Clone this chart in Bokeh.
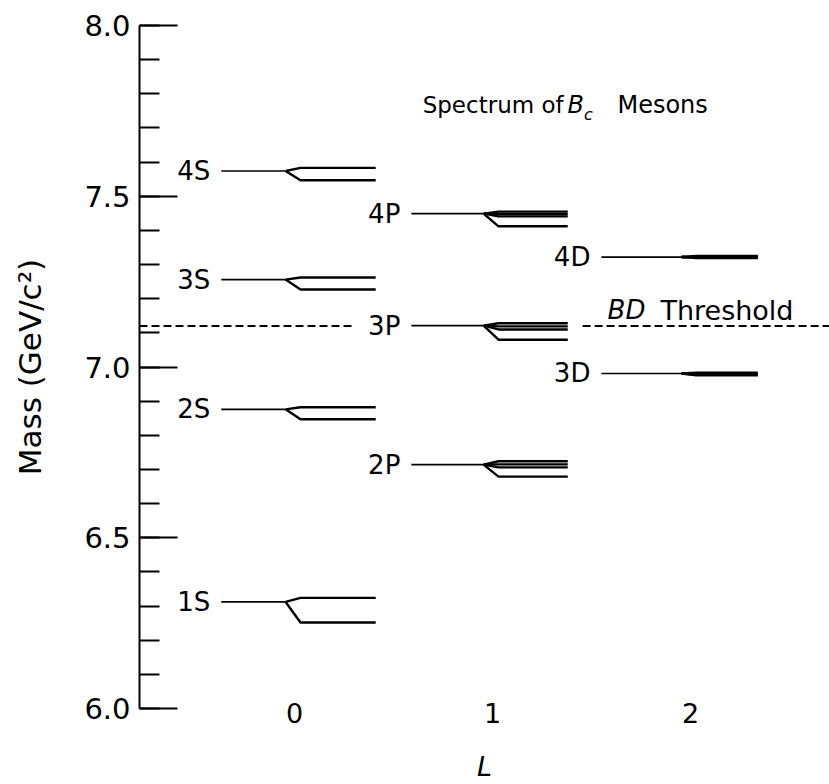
from bokeh.plotting import figure
from bokeh.models import (Range1d, SingleIntervalTicker, FixedTicker,
                          PrintfTickFormatter, Label, ColumnDataSource)
from bokeh.core.properties import value
from bokeh.embed import file_html
from bokeh.resources import INLINE

# ---------------- data (masses in GeV/c^2) ----------------
x_ticks = [0, 1, 2]
x_tick_labels = ["0", "1", "2"]

S_L = 0
S_states = ["1S", "2S", "3S", "4S"]
S_center = [6.312, 6.876, 7.256, 7.574]
S_vector = [6.324, 6.882, 7.262, 7.583]
S_pseudo = [6.252, 6.847, 7.227, 7.547]

P_L = 1
P_states = ["2P", "3P", "4P"]
P_center = [6.714, 7.121, 7.449]
P_J2 = [6.724, 7.128, 7.455]
P_J1a = [6.715, 7.119, 7.448]
P_J1b = [6.706, 7.110, 7.441]
P_J0 = [6.679, 7.080, 7.412]

D_L = 2
D_states = ["3D", "4D"]
D_center = [6.981, 7.322]
D_J3 = [6.983, 7.325]
D_J2a = [6.980, 7.323]
D_J2b = [6.978, 7.321]
D_J1 = [6.976, 7.319]

BD_threshold = 7.12

# ---------------- layout constants ----------------
FONT = "DejaVu Sans"
START = {0: -0.37, 1: -0.41, 2: -0.45}
END = {0: 0.41, 1: 0.38, 2: 0.34}
SPLIT = -0.045
BRANCH = 0.03

p = figure(width=829, height=784,
           x_range=Range1d(-0.783, 2.702), y_range=Range1d(6.0, 8.0),
           output_backend="svg", toolbar_location=None,
           min_border_left=139, min_border_right=0,
           min_border_top=25, min_border_bottom=75)
p.outline_line_color = None
p.grid.visible = False
p.background_fill_color = "white"
p.border_fill_color = "white"

stem_xs, stem_ys, br_xs, br_ys = [], [], [], []
lab_x, lab_y, lab_t = [], [], []


def add_family(L, names, centers, subs):
    for i, c in enumerate(centers):
        stem_xs.append([L + START[L], L + SPLIT])
        stem_ys.append([c, c])
        for sub in subs:
            m = sub[i]
            br_xs.append([L + SPLIT, L + BRANCH, L + END[L]])
            br_ys.append([c, m, m])
        lab_x.append(L + START[L])
        lab_y.append(c)
        lab_t.append(names[i])


add_family(S_L, S_states, S_center, [S_vector, S_pseudo])
add_family(P_L, P_states, P_center, [P_J2, P_J1a, P_J1b, P_J0])
add_family(D_L, D_states, D_center, [D_J3, D_J2a, D_J2b, D_J1])

p.multi_line(xs=stem_xs, ys=stem_ys, line_color="black", line_width=1.7)
p.multi_line(xs=br_xs, ys=br_ys, line_color="black", line_width=2.4)

src = ColumnDataSource(dict(x=lab_x, y=lab_y, t=lab_t))
p.text(x="x", y="y", text="t", source=src, x_offset=-11,
       text_align="right", text_baseline="middle",
       text_font=value(FONT), text_font_size="26px", text_color="black")

# BD threshold dashed line (two pieces, gap for labels)
p.segment(x0=[-0.783, 1.455], x1=[0.308, 2.702],
          y0=[BD_threshold, BD_threshold], y1=[BD_threshold, BD_threshold],
          line_color="black", line_width=1.8, line_dash="8 4")

p.add_layout(Label(x=1.581, y=7.166, text="BD", text_font=FONT,
                   text_font_style="italic", text_font_size="26px",
                   text_baseline="middle", text_color="black"))
p.add_layout(Label(x=1.848, y=7.166, text="Threshold", text_font=FONT,
                   text_font_size="27px", text_baseline="middle",
                   text_color="black"))

# title pieces
p.add_layout(Label(x=1.359, y=7.767, text="Spectrum of", text_font=FONT,
                   text_font_size="23px", text_baseline="middle",
                   text_align="right", text_color="black"))
p.add_layout(Label(x=1.379, y=7.767, text="B", text_font=FONT,
                   text_font_style="italic", text_font_size="24px",
                   text_baseline="middle", text_color="black"))
p.add_layout(Label(x=1.462, y=7.740, text="c", text_font=FONT,
                   text_font_style="italic", text_font_size="16px",
                   text_baseline="middle", text_color="black"))
p.add_layout(Label(x=1.631, y=7.767, text="Mesons", text_font=FONT,
                   text_font_size="24px", text_baseline="middle",
                   text_color="black"))

# y axis
ya = p.yaxis[0]
ya.ticker = SingleIntervalTicker(interval=0.5, num_minor_ticks=5)
ya.formatter = PrintfTickFormatter(format="%.1f")
ya.major_tick_in = 38
ya.major_tick_out = 0
ya.minor_tick_in = 20
ya.minor_tick_out = 0
ya.axis_line_width = 2
ya.major_tick_line_width = 2
ya.minor_tick_line_width = 2
ya.axis_line_color = "black"
ya.major_tick_line_color = "black"
ya.minor_tick_line_color = "black"
ya.major_label_standoff = 9
ya.major_label_text_font = FONT
ya.major_label_text_font_size = "29px"
ya.major_label_text_color = "black"
ya.axis_label = "Mass (GeV/c²)"
ya.axis_label_text_font = FONT
ya.axis_label_text_font_style = "normal"
ya.axis_label_text_font_size = "31px"
ya.axis_label_text_color = "black"
ya.axis_label_standoff = 33

# x axis
xa = p.xaxis[0]
xa.ticker = FixedTicker(ticks=x_ticks)
xa.major_label_overrides = {t: s for t, s in zip(x_ticks, x_tick_labels)}
xa.axis_line_color = None
xa.major_tick_line_color = None
xa.minor_tick_line_color = None
xa.major_label_standoff = -12
xa.major_label_text_font = FONT
xa.major_label_text_font_size = "27px"
xa.major_label_text_color = "black"
xa.axis_label = "L"
xa.axis_label_text_font = FONT
xa.axis_label_text_font_style = "italic"
xa.axis_label_text_font_size = "27px"
xa.axis_label_text_color = "black"
xa.axis_label_standoff = 25

open("out.html", "w").write(file_html(p, INLINE))
